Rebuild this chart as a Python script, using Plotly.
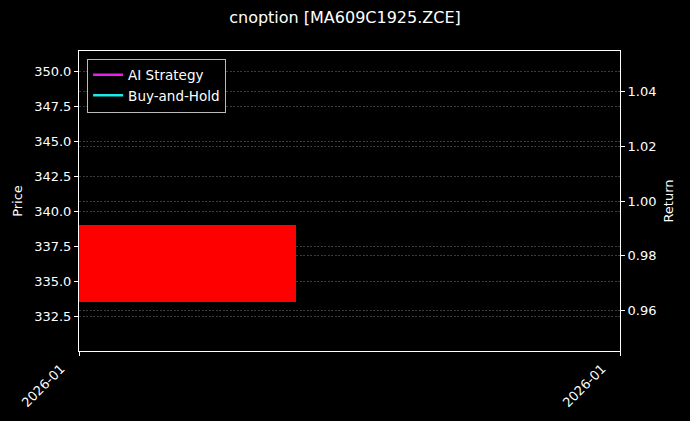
import plotly.graph_objects as go
import pandas as pd

# one daily bar for the option contract
dates = ["2026-01-15"]
opens = [339.0]
closes = [333.5]
ai_strategy = [1.0]
buy_hold = [1.0]

title = "cnoption [MA609C1925.ZCE]"
price_ticks = [332.5, 335.0, 337.5, 340.0, 342.5, 345.0, 347.5, 350.0]
return_ticks = [0.96, 0.98, 1.00, 1.02, 1.04]

day = pd.Timedelta(days=1)
c = pd.Timestamp(dates[0])
x0 = c + 0.05 * day
x1 = x0 + 0.8726 * day

fig = go.Figure()
fig.add_trace(go.Bar(
    x=dates, y=[o - cl for o, cl in zip(opens, closes)], base=closes,
    width=0.8 * 86400000, marker=dict(color="red", line=dict(width=0)),
    showlegend=False))
fig.add_trace(go.Scatter(x=dates, y=ai_strategy, mode="lines", name="AI Strategy",
                         line=dict(color="#e81fe8", width=2.5), yaxis="y2"))
fig.add_trace(go.Scatter(x=dates, y=buy_hold, mode="lines", name="Buy-and-Hold",
                         line=dict(color="#1fe8e8", width=2.5), yaxis="y2"))

axis_style = dict(showline=True, linecolor="white", linewidth=1, ticks="outside",
                  tickcolor="white", ticklen=4, zeroline=False,
                  tickfont=dict(size=13, color="white"))
grid_style = dict(showgrid=True, gridcolor="#3c3c3c", gridwidth=0.5, griddash="2px,1.5px")

fig.update_layout(
    width=690, height=421,
    margin=dict(l=79, r=70, t=51, b=70),
    paper_bgcolor="black", plot_bgcolor="black",
    font=dict(family="DejaVu Sans", color="white", size=13),
    title=dict(text=title, x=0.5, xanchor="center", y=0.958, yanchor="middle",
               font=dict(size=16)),
    bargap=0,
    xaxis=dict(type="date", range=[x0, x1], tickvals=[x0, x1],
               ticktext=["2026-01", "2026-01"], tickangle=-45, ticklabelshift=-18,
               showgrid=False, mirror=True, **axis_style),
    yaxis=dict(range=[330.0, 351.43], tickvals=price_ticks,
               ticktext=[f"{v:.1f}" for v in price_ticks],
               title=dict(text="Price", font=dict(size=13), standoff=8),
               mirror=True, **grid_style, **axis_style),
    yaxis2=dict(overlaying="y", side="right", range=[0.945, 1.055],
                tickvals=return_ticks, ticktext=[f"{v:.2f}" for v in return_ticks],
                title=dict(text="Return", font=dict(size=13), standoff=8),
                **grid_style, **axis_style),
    legend=dict(x=0.015, y=0.975, xanchor="left", yanchor="top",
                bgcolor="black", bordercolor="#bbbbbb", borderwidth=1, itemwidth=30,
                font=dict(size=13.5, color="white")),
)

fig.write_html("out.html", config={"displayModeBar": False},
               post_script="document.body.style.margin='0';document.body.style.background='black';")
